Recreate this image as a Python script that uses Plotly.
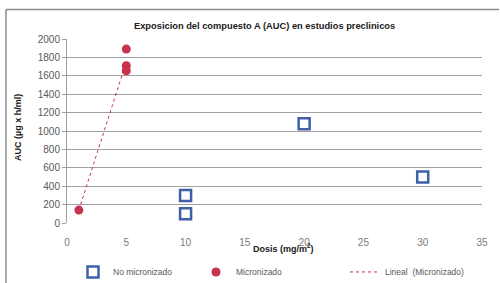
import numpy as np
import plotly.graph_objects as go

# Data
no_micro_x = [10, 10, 20, 30]
no_micro_y = [300, 100, 1080, 500]
micro_x = [1, 5, 5, 5]
micro_y = [140, 1890, 1710, 1655]
x_ticks = [0, 5, 10, 15, 20, 25, 30, 35]
y_ticks = [0, 200, 400, 600, 800, 1000, 1200, 1400, 1600, 1800, 2000]

title_text = "Exposicion del compuesto A (AUC) en estudios preclinicos"

# linear trend (least squares) over micronized data
slope, intercept = np.polyfit(micro_x, micro_y, 1)
trend_x = [min(micro_x), max(micro_x)]
trend_y = [slope * v + intercept for v in trend_x]

blue = "#3F5FA8"
red = "#C8324F"
grey_text = "#595959"

L, R, T, B = 67, 482, 39, 223
def px(x):
    return (x - L) / (R - L)
def py(y):
    return (B - y) / (B - T)

fig = go.Figure()
fig.add_trace(go.Scatter(
    x=no_micro_x, y=no_micro_y, mode="markers", name="No micronizado",
    marker=dict(symbol="square-open", size=11, color=blue, line=dict(width=2.5, color=blue)),
    legend="legend"))
fig.add_trace(go.Scatter(
    x=micro_x, y=micro_y, mode="markers", name="Micronizado",
    marker=dict(symbol="circle", size=9, color=red),
    legend="legend"))
fig.add_trace(go.Scatter(
    x=trend_x, y=trend_y, mode="lines", name="Lineal  (Micronizado)",
    line=dict(color=red, width=1, dash="dot"),
    legend="legend2"))

font_family = "Liberation Sans, Arial, sans-serif"

fig.update_layout(
    width=500, height=283,
    margin=dict(l=L, r=500 - R, t=T, b=283 - B, autoexpand=False),
    paper_bgcolor="white", plot_bgcolor="white",
    font=dict(family=font_family, size=10, color=grey_text),
    showlegend=True,
    legend=dict(orientation="h", xref="container", yref="container",
                x=0.146, y=0.039, xanchor="left", yanchor="middle",
                entrywidth=78, entrywidthmode="pixels",
                font=dict(size=8.5, color=grey_text), bgcolor="rgba(0,0,0,0)"),
    legend2=dict(orientation="h", xref="container", yref="container",
                 x=0.69, y=0.039, xanchor="left", yanchor="middle",
                 font=dict(size=8.5, color=grey_text), bgcolor="rgba(0,0,0,0)"),
    xaxis=dict(range=[0, 35], tickvals=x_ticks, showgrid=False, zeroline=False,
               showline=False, ticks="", tickfont=dict(size=10, color="#7a7a7a"),
               ticklabelstandoff=12),
    yaxis=dict(range=[0, 2000], tickvals=y_ticks, showgrid=True, gridcolor="#A0A0A0",
               gridwidth=1, zeroline=False, showline=True, linecolor="#A0A0A0",
               ticks="outside", ticklen=4, tickcolor="#A0A0A0",
               tickfont=dict(size=10, color=grey_text)),
)

fig.add_annotation(text="<b>" + title_text + "</b>", xref="paper", yref="paper",
                   x=px(264), y=py(26), showarrow=False,
                   font=dict(size=9.3, color="#202020", family=font_family),
                   xanchor="center", yanchor="middle")
fig.add_annotation(text="<b>AUC (µg x h/ml)</b>", xref="paper", yref="paper",
                   x=px(18), y=py(128), showarrow=False, textangle=-90,
                   font=dict(size=9, color="#202020", family=font_family),
                   xanchor="center", yanchor="middle")
fig.add_annotation(text="<b>Dosis (mg/m<sup>2</sup>)</b>", xref="paper", yref="paper",
                   x=px(283), y=py(248), showarrow=False,
                   font=dict(size=9, color="#202020", family=font_family),
                   xanchor="center", yanchor="middle")

# outer chart frame (top and left edges visible in the crop)
frame_line = dict(color="#8C8C8C", width=1.5)
fig.add_shape(type="line", xref="paper", yref="paper",
              x0=px(6), x1=px(499), y0=py(9.5), y1=py(9.5), line=frame_line, layer="above")
fig.add_shape(type="line", xref="paper", yref="paper",
              x0=px(6), x1=px(6), y0=py(9.5), y1=py(283), line=frame_line, layer="above")

fig.write_html("out.html", config={"displayModeBar": False},
               post_script="document.body.style.margin='0';")
